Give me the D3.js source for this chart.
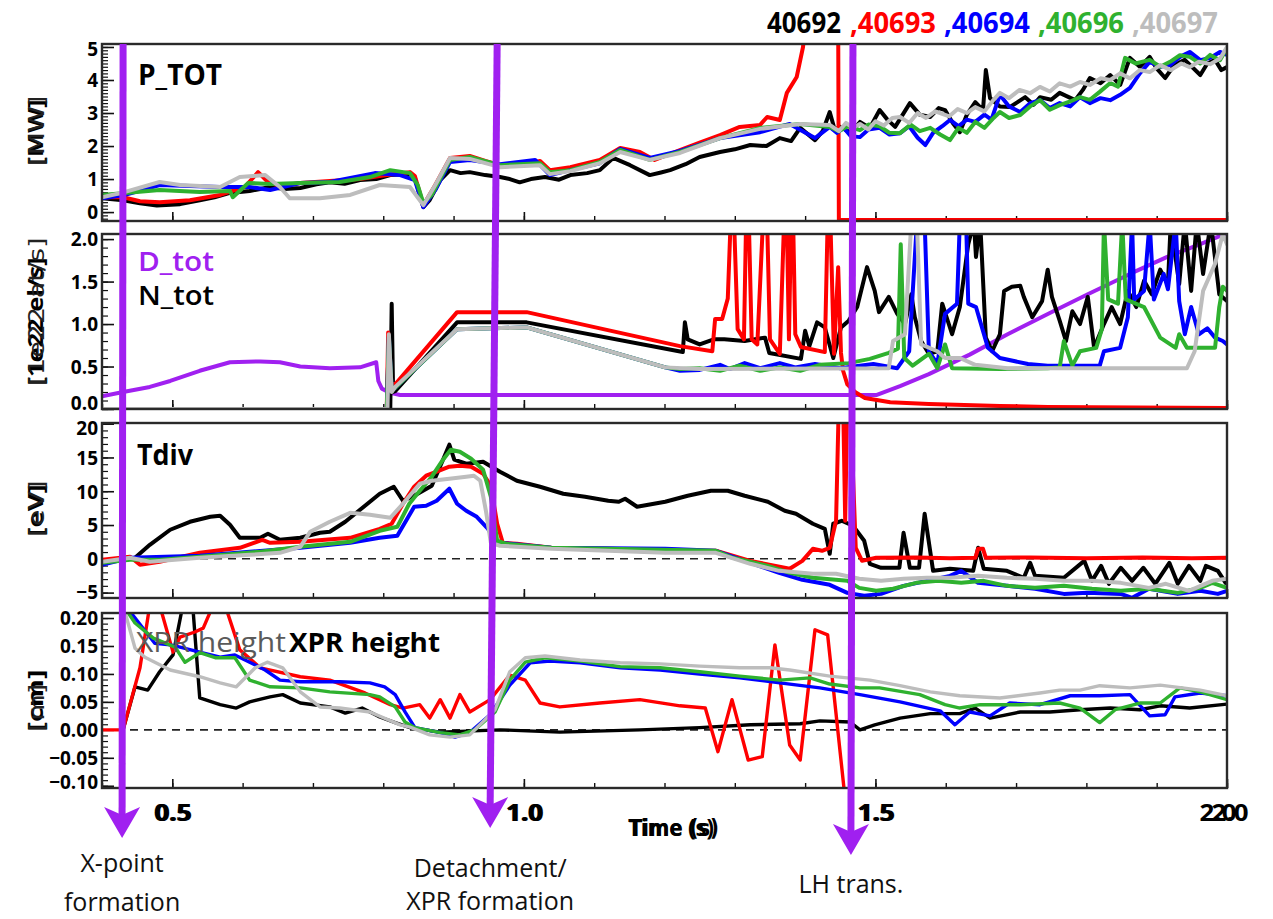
<!DOCTYPE html>
<html><head><meta charset="utf-8">
<script src="https://cdn.jsdelivr.net/npm/d3@7"></script>
<style>body{margin:0;background:#fff}svg{display:block}</style>
</head><body>
<svg id="fig" width="1273" height="919"></svg>
<script>
// ---------------- data ----------------
const shots = ["40692", ",40693", ",40694", ",40696", ",40697"];
const shotColors = ["#000000", "#ff0000", "#0000ff", "#2fb12f", "#bdbdbd"];
const timeTicks = [0.5, 1.0, 1.5, 2.0];
const timeTickLabels = ["0.5", "1.0", "1.5", "2.0"];

const pTotTicks = [0, 1, 2, 3, 4, 5];
const nTotTicks = [0.0, 0.5, 1.0, 1.5, 2.0];
const tDivTicks = [-5, 0, 5, 10, 15, 20];
const xprTicks = [-0.10, -0.05, 0.00, 0.05, 0.10, 0.15, 0.20];

const eventTimes = [0.430, 0.962, 1.468];
const eventLabels = [["X-point", "formation"], ["Detachment/", "XPR formation"], ["LH trans."]];

// P_TOT [MW] per shot: [time s, value]
const pTot40692 = [[0.400,0.42],[0.430,0.36],[0.454,0.27],[0.478,0.20],[0.511,0.24],[0.539,0.36],[0.560,0.45],[0.582,0.58],[0.610,0.64],[0.625,0.70],[0.639,0.76],[0.660,0.70],[0.682,0.73],[0.705,0.84],[0.724,0.90],[0.745,0.86],[0.767,0.97],[0.790,1.00],[0.810,1.12],[0.838,1.15],[0.845,1.03],[0.857,0.15],[0.866,0.36],[0.881,0.97],[0.895,1.27],[0.910,1.18],[0.923,1.21],[0.945,1.12],[0.966,1.06],[0.980,1.00],[0.994,0.90],[1.010,1.00],[1.030,1.06],[1.050,0.98],[1.066,1.12],[1.090,1.18],[1.108,1.27],[1.127,1.64],[1.151,1.42],[1.179,1.12],[1.195,1.20],[1.208,1.27],[1.230,1.45],[1.250,1.67],[1.279,1.82],[1.300,1.90],[1.322,2.03],[1.345,2.00],[1.364,2.24],[1.380,2.15],[1.393,2.55],[1.414,2.18],[1.425,2.45],[1.435,3.03],[1.442,2.50],[1.450,2.58],[1.465,2.40],[1.478,2.73],[1.492,2.55],[1.506,3.09],[1.517,2.80],[1.528,2.58],[1.549,3.30],[1.563,2.95],[1.578,2.88],[1.590,3.15],[1.599,3.09],[1.610,2.70],[1.620,2.42],[1.630,2.95],[1.642,3.33],[1.653,3.09],[1.657,4.30],[1.663,3.45],[1.677,3.20],[1.691,3.18],[1.713,3.48],[1.725,3.25],[1.734,3.48],[1.750,3.40],[1.762,3.61],[1.784,3.39],[1.795,3.70],[1.805,4.06],[1.820,3.90],[1.834,4.15],[1.848,3.85],[1.862,4.67],[1.876,4.40],[1.890,4.70],[1.900,4.35],[1.912,4.06],[1.925,4.45],[1.940,4.61],[1.962,4.15],[1.972,4.50],[1.983,4.61],[1.992,4.30],[2.000,4.39]];
const pTot40693 = [[0.400,0.45],[0.430,0.45],[0.454,0.33],[0.482,0.30],[0.525,0.36],[0.568,0.52],[0.603,0.76],[0.622,1.21],[0.636,0.91],[0.653,0.79],[0.682,0.88],[0.724,0.94],[0.767,1.00],[0.795,1.09],[0.838,1.21],[0.845,1.09],[0.857,0.21],[0.874,0.82],[0.895,1.64],[0.923,1.70],[0.945,1.55],[0.966,1.42],[0.994,1.42],[1.023,1.55],[1.037,1.27],[1.066,1.36],[1.108,1.58],[1.137,1.94],[1.165,1.82],[1.186,1.58],[1.222,1.88],[1.250,2.10],[1.279,2.33],[1.307,2.58],[1.336,2.64],[1.346,2.88],[1.364,2.79],[1.374,3.61],[1.388,4.09],[1.397,5.00],[1.401,5.80],[1.447,5.80],[1.448,-0.24],[2.000,-0.24]];
const pTot40694 = [[0.400,0.42],[0.433,0.52],[0.482,0.82],[0.525,0.79],[0.568,0.76],[0.610,0.76],[0.639,0.67],[0.682,0.88],[0.724,0.91],[0.788,1.18],[0.824,1.12],[0.845,0.97],[0.857,0.15],[0.874,0.67],[0.895,1.52],[0.923,1.58],[0.966,1.45],[1.016,1.58],[1.037,1.12],[1.066,1.27],[1.108,1.48],[1.137,1.91],[1.179,1.64],[1.222,1.85],[1.279,2.24],[1.336,2.42],[1.378,2.67],[1.414,2.24],[1.435,2.58],[1.445,2.40],[1.455,2.55],[1.465,2.30],[1.478,2.27],[1.490,2.50],[1.506,2.55],[1.520,2.35],[1.535,2.39],[1.548,2.60],[1.560,2.25],[1.571,2.03],[1.582,2.40],[1.595,2.60],[1.606,2.79],[1.618,2.60],[1.630,2.80],[1.642,2.73],[1.655,2.95],[1.665,2.80],[1.677,3.55],[1.690,3.20],[1.706,3.03],[1.720,3.30],[1.734,3.39],[1.748,3.15],[1.762,3.30],[1.777,3.20],[1.791,3.48],[1.805,3.30],[1.820,3.45],[1.834,3.39],[1.848,3.55],[1.862,3.76],[1.876,4.20],[1.890,4.55],[1.905,4.40],[1.919,4.45],[1.933,4.70],[1.947,4.85],[1.962,4.60],[1.976,4.67],[1.990,4.85],[2.000,4.76]];
const pTot40696 = [[0.400,0.52],[0.433,0.58],[0.482,0.67],[0.539,0.61],[0.582,0.64],[0.586,0.45],[0.608,0.88],[0.639,0.85],[0.682,0.88],[0.738,0.91],[0.781,1.06],[0.810,1.27],[0.838,1.18],[0.849,0.82],[0.857,0.27],[0.869,0.52],[0.895,1.58],[0.923,1.67],[0.966,1.42],[1.023,1.48],[1.037,1.21],[1.066,1.27],[1.108,1.52],[1.137,1.88],[1.179,1.58],[1.222,1.82],[1.279,2.24],[1.336,2.55],[1.393,2.67],[1.435,2.58],[1.448,2.45],[1.460,2.60],[1.478,2.48],[1.490,2.65],[1.506,2.60],[1.520,2.40],[1.535,2.39],[1.550,2.65],[1.563,2.45],[1.578,2.55],[1.592,2.35],[1.606,2.18],[1.618,2.55],[1.630,2.40],[1.642,2.73],[1.655,2.55],[1.668,2.85],[1.677,3.03],[1.690,2.85],[1.706,2.94],[1.720,3.20],[1.734,3.39],[1.748,3.10],[1.762,3.24],[1.777,3.35],[1.791,3.48],[1.805,3.40],[1.819,3.64],[1.834,3.91],[1.845,3.80],[1.855,4.67],[1.870,4.50],[1.890,4.61],[1.905,4.40],[1.919,4.55],[1.933,4.75],[1.947,4.70],[1.962,4.50],[1.976,4.76],[1.990,4.60],[2.000,4.97]];
const pTot40697 = [[0.400,0.45],[0.433,0.61],[0.482,0.91],[0.511,0.82],[0.568,0.76],[0.596,1.06],[0.632,1.12],[0.653,0.76],[0.667,0.42],[0.710,0.42],[0.753,0.52],[0.795,0.82],[0.838,0.76],[0.857,0.21],[0.874,0.82],[0.895,1.64],[0.923,1.61],[0.966,1.36],[1.023,1.42],[1.037,1.15],[1.066,1.24],[1.108,1.48],[1.137,1.82],[1.179,1.58],[1.222,1.79],[1.279,2.24],[1.336,2.52],[1.393,2.67],[1.435,2.64],[1.448,2.45],[1.458,2.70],[1.468,2.55],[1.478,2.67],[1.490,2.50],[1.500,2.75],[1.512,2.62],[1.524,2.85],[1.535,2.88],[1.548,2.70],[1.560,3.00],[1.572,2.85],[1.585,3.05],[1.592,3.00],[1.605,2.90],[1.617,3.12],[1.630,3.00],[1.642,3.18],[1.655,3.05],[1.668,3.40],[1.677,3.61],[1.690,3.45],[1.705,3.70],[1.720,3.60],[1.734,3.79],[1.748,3.65],[1.762,3.90],[1.777,3.80],[1.791,3.94],[1.805,3.85],[1.820,4.05],[1.834,4.00],[1.848,4.20],[1.862,4.05],[1.876,4.30],[1.890,4.24],[1.905,4.45],[1.920,4.30],[1.935,4.50],[1.947,4.39],[1.960,4.55],[1.976,4.48],[1.990,4.65],[2.000,5.00]];

// D_tot and N_tot [1e22 el/s]
const dTot40693 = [[0.400,0.15],[0.430,0.20],[0.468,0.26],[0.497,0.33],[0.539,0.45],[0.582,0.55],[0.625,0.56],[0.653,0.55],[0.682,0.50],[0.724,0.48],[0.767,0.49],[0.790,0.55],[0.793,0.33],[0.798,0.24],[0.810,0.19],[0.824,0.165],[1.502,0.165],[1.535,0.27],[1.576,0.41],[1.634,0.64],[1.688,0.88],[1.748,1.13],[1.802,1.35],[1.862,1.59],[1.915,1.79],[1.962,1.94],[2.000,2.07]];
const nTot40692 = [[0.400,0],[0.810,0],[0.812,1.24],[0.814,0.20],[0.817,0.21],[0.905,1.02],[1.004,1.02],[1.226,0.67],[1.229,1.02],[1.233,0.82],[1.250,0.76],[1.270,0.82],[1.285,0.82],[1.314,0.80],[1.343,0.84],[1.349,0.66],[1.394,0.59],[1.400,0.92],[1.406,0.74],[1.417,1.02],[1.428,0.96],[1.440,0.60],[1.451,0.96],[1.462,1.04],[1.474,1.20],[1.488,1.67],[1.499,1.39],[1.505,1.14],[1.519,1.32],[1.531,1.12],[1.542,1.00],[1.551,1.35],[1.556,1.08],[1.565,0.80],[1.576,0.65],[1.588,0.68],[1.595,1.24],[1.609,0.88],[1.620,1.20],[1.632,1.94],[1.640,2.20],[1.643,1.79],[1.649,2.20],[1.657,0.84],[1.666,0.68],[1.677,0.88],[1.683,1.39],[1.694,1.44],[1.706,1.45],[1.711,1.32],[1.723,1.08],[1.737,1.27],[1.745,1.64],[1.751,1.32],[1.762,1.04],[1.771,0.80],[1.780,1.15],[1.791,1.00],[1.802,1.32],[1.811,0.72],[1.825,1.00],[1.836,1.20],[1.848,1.00],[1.859,1.39],[1.871,1.20],[1.882,1.51],[1.893,1.35],[1.905,1.64],[1.916,1.47],[1.920,2.20],[1.932,1.47],[1.940,2.20],[1.949,1.39],[1.957,2.20],[1.966,1.59],[1.977,2.20],[1.989,1.35],[2.000,1.27]];
const nTot40693 = [[0.400,0],[0.805,0],[0.807,0.90],[0.810,0.30],[0.817,0.29],[0.905,1.14],[1.004,1.14],[1.222,0.74],[1.268,0.68],[1.272,1.06],[1.282,1.06],[1.290,1.30],[1.294,2.20],[1.299,2.20],[1.304,0.94],[1.313,0.82],[1.316,2.20],[1.320,2.20],[1.324,0.82],[1.332,0.76],[1.340,2.20],[1.346,2.20],[1.350,0.82],[1.364,0.65],[1.370,2.20],[1.374,2.20],[1.377,0.82],[1.380,2.20],[1.383,2.20],[1.386,0.88],[1.394,0.73],[1.428,0.67],[1.432,2.20],[1.436,2.20],[1.441,0.65],[1.447,1.67],[1.451,0.66],[1.454,0.45],[1.460,0.29],[1.471,0.20],[1.485,0.13],[1.521,0.08],[1.576,0.06],[1.677,0.035],[1.745,0.025],[2.000,0.012]];
const nTot40694 = [[0.400,0],[0.805,0],[0.808,0.85],[0.812,0.22],[0.817,0.25],[0.905,0.94],[1.004,0.96],[1.201,0.49],[1.222,0.45],[1.250,0.46],[1.279,0.52],[1.293,0.47],[1.314,0.54],[1.336,0.48],[1.364,0.54],[1.386,0.49],[1.414,0.53],[1.450,0.48],[1.497,0.53],[1.531,0.48],[1.548,0.68],[1.559,2.20],[1.570,2.20],[1.576,0.68],[1.588,0.53],[1.599,1.12],[1.616,1.24],[1.620,2.20],[1.629,2.20],[1.632,1.24],[1.643,1.20],[1.660,0.72],[1.677,0.60],[1.717,0.53],[1.745,0.51],[1.819,0.51],[1.825,0.68],[1.848,0.72],[1.859,1.08],[1.865,2.20],[1.868,1.29],[1.882,1.39],[1.890,2.20],[1.896,1.29],[1.910,1.59],[1.916,1.41],[1.927,2.20],[1.932,1.27],[1.940,0.88],[1.949,1.20],[1.960,0.88],[1.972,0.95],[1.983,0.84],[1.994,0.80],[2.000,0.76]];
const nTot40696 = [[0.400,0],[0.805,0],[0.808,0.85],[0.812,0.22],[0.817,0.25],[0.905,0.94],[1.004,0.96],[1.201,0.49],[1.222,0.47],[1.250,0.48],[1.279,0.45],[1.307,0.51],[1.336,0.45],[1.364,0.49],[1.393,0.45],[1.421,0.52],[1.462,0.54],[1.492,0.59],[1.519,0.66],[1.532,0.71],[1.536,1.94],[1.541,0.60],[1.553,0.51],[1.576,0.65],[1.588,0.48],[1.599,0.76],[1.609,0.48],[1.677,0.47],[1.745,0.48],[1.762,0.49],[1.768,0.80],[1.780,0.51],[1.791,0.68],[1.814,0.72],[1.822,0.94],[1.825,2.20],[1.831,1.29],[1.845,1.24],[1.851,2.20],[1.856,1.29],[1.882,1.20],[1.905,0.84],[1.927,0.72],[1.932,0.88],[1.943,0.72],[1.983,0.72],[1.989,1.20],[1.994,1.44],[2.000,1.39]];
const nTot40697 = [[0.400,0],[0.806,0],[0.808,0.88],[0.812,0.20],[0.817,0.26],[0.905,0.94],[1.004,0.96],[1.201,0.49],[1.250,0.47],[1.519,0.48],[1.525,0.80],[1.542,0.88],[1.551,2.20],[1.559,2.20],[1.565,0.76],[1.588,0.68],[1.599,0.60],[1.620,0.60],[1.642,0.52],[1.688,0.48],[1.943,0.48],[1.954,0.68],[1.966,1.39],[1.983,1.71],[1.994,2.06],[2.000,1.94]];

// Tdiv [eV]
const tDiv40692 = [[0.400,-0.44],[0.433,-0.15],[0.447,0.15],[0.468,2.07],[0.497,4.30],[0.525,5.48],[0.554,6.22],[0.568,6.37],[0.582,5.04],[0.596,3.11],[0.625,3.11],[0.636,3.70],[0.653,2.81],[0.682,3.11],[0.710,3.85],[0.724,4.00],[0.746,5.48],[0.767,7.26],[0.795,9.63],[0.815,10.67],[0.828,8.59],[0.844,9.33],[0.869,10.81],[0.885,14.67],[0.894,16.89],[0.901,14.67],[0.918,14.07],[0.942,14.37],[0.966,12.89],[0.990,11.56],[1.023,10.67],[1.056,9.63],[1.087,9.19],[1.120,8.59],[1.135,8.44],[1.144,8.89],[1.161,7.70],[1.201,8.44],[1.233,9.33],[1.266,10.07],[1.290,10.07],[1.314,9.33],[1.347,8.44],[1.371,7.11],[1.387,6.67],[1.411,5.19],[1.428,4.44],[1.435,0.74],[1.440,5.19],[1.452,5.63],[1.468,4.89],[1.484,2.67],[1.492,-0.74],[1.508,-1.33],[1.534,-1.33],[1.540,3.85],[1.549,-1.33],[1.562,-1.33],[1.570,6.67],[1.582,-1.78],[1.606,-1.48],[1.639,-1.78],[1.646,1.63],[1.654,-1.48],[1.687,-1.78],[1.711,-2.81],[1.720,-0.59],[1.727,-2.52],[1.768,-2.81],[1.797,-0.30],[1.808,-3.26],[1.821,-1.04],[1.832,-3.70],[1.849,-1.33],[1.865,-3.26],[1.881,-1.33],[1.898,-3.70],[1.918,-0.59],[1.930,-3.70],[1.946,-1.04],[1.962,-3.26],[1.970,-1.04],[1.987,-1.78],[1.998,-3.56]];
const tDiv40693 = [[0.400,-0.15],[0.440,0.30],[0.454,-0.89],[0.482,-0.44],[0.539,0.89],[0.596,1.63],[0.628,2.81],[0.639,2.37],[0.682,2.52],[0.753,3.11],[0.795,4.44],[0.812,5.19],[0.828,8.15],[0.844,10.67],[0.861,12.30],[0.876,12.89],[0.894,13.63],[0.909,13.78],[0.925,13.63],[0.942,12.59],[0.953,10.81],[0.962,5.19],[0.970,2.37],[0.990,2.22],[1.039,1.63],[1.120,1.48],[1.201,1.19],[1.273,1.19],[1.322,-0.30],[1.378,-1.48],[1.396,-0.30],[1.411,1.48],[1.424,1.19],[1.435,1.63],[1.444,5.63],[1.448,23.5],[1.454,23.5],[1.457,5.63],[1.460,23.5],[1.464,23.5],[1.472,1.63],[1.481,-0.30],[1.501,0.15],[1.560,0.20],[1.606,0.10],[1.642,0.15],[1.646,1.48],[1.653,1.48],[1.657,0.15],[1.720,0.20],[1.800,0.10],[1.880,0.20],[1.950,0.10],[2.000,0.15]];
const tDiv40694 = [[0.400,-0.89],[0.440,0.15],[0.539,0.44],[0.682,1.63],[0.753,2.37],[0.795,3.11],[0.820,3.41],[0.844,7.70],[0.861,7.85],[0.876,8.59],[0.894,10.37],[0.905,8.15],[0.918,7.11],[0.933,6.22],[0.949,4.44],[0.958,2.96],[0.966,2.37],[1.039,1.63],[1.201,1.48],[1.273,1.19],[1.314,-0.30],[1.363,-2.07],[1.396,-3.11],[1.435,-3.85],[1.460,-5.04],[1.484,-5.48],[1.508,-5.19],[1.540,-4.00],[1.573,-3.26],[1.606,-2.52],[1.622,-1.78],[1.646,-3.56],[1.687,-4.00],[1.727,-4.44],[1.768,-5.19],[1.801,-5.04],[1.849,-5.19],[1.865,-5.78],[1.889,-4.44],[1.930,-5.19],[1.962,-4.74],[1.987,-5.19],[2.000,-4.74]];
const tDiv40696 = [[0.400,-0.59],[0.440,-0.15],[0.482,-0.15],[0.539,0.30],[0.625,1.04],[0.682,1.78],[0.753,2.52],[0.795,4.15],[0.820,4.74],[0.837,8.15],[0.852,10.07],[0.869,12.15],[0.885,14.67],[0.896,16.15],[0.909,15.85],[0.925,14.81],[0.942,13.19],[0.953,9.19],[0.962,2.67],[0.975,2.22],[1.039,1.63],[1.120,1.48],[1.273,1.19],[1.297,0.15],[1.347,-1.04],[1.378,-2.07],[1.411,-2.81],[1.460,-3.26],[1.477,-4.30],[1.501,-4.74],[1.525,-4.44],[1.558,-3.56],[1.589,-3.26],[1.622,-3.56],[1.654,-3.26],[1.687,-4.00],[1.727,-4.30],[1.768,-4.00],[1.808,-4.44],[1.849,-4.74],[1.889,-4.44],[1.930,-5.04],[1.962,-4.30],[1.979,-3.56],[2.000,-4.30]];
const tDiv40697 = [[0.400,-0.44],[0.440,0.15],[0.468,-0.44],[0.539,0.15],[0.610,0.59],[0.653,0.89],[0.682,1.78],[0.696,4.00],[0.724,5.48],[0.753,6.81],[0.781,6.52],[0.810,6.07],[0.828,8.15],[0.852,11.11],[0.869,11.56],[0.894,11.85],[0.918,12.15],[0.929,12.30],[0.938,11.56],[0.946,7.11],[0.953,2.37],[0.966,1.93],[1.039,1.48],[1.201,0.89],[1.273,0.89],[1.322,-0.74],[1.363,-1.78],[1.411,-2.22],[1.444,-2.22],[1.477,-2.96],[1.508,-3.26],[1.540,-2.96],[1.573,-2.81],[1.606,-2.81],[1.646,-2.52],[1.687,-2.81],[1.727,-2.96],[1.768,-3.26],[1.808,-3.26],[1.849,-3.56],[1.889,-4.30],[1.913,-3.70],[1.946,-4.74],[1.979,-3.26],[2.000,-2.96]];

// XPR height [m]
const xpr40692 = [[0.430,0],[0.447,0.077],[0.465,0.071],[0.482,0.104],[0.501,0.134],[0.515,0.223],[0.529,0.223],[0.539,0.057],[0.568,0.045],[0.591,0.039],[0.610,0.050],[0.639,0.059],[0.657,0.063],[0.682,0.048],[0.724,0.041],[0.746,0.030],[0.770,0.039],[0.795,0.023],[0.817,0.013],[0.838,0.004],[0.881,-0.004],[0.966,0.000],[1.051,-0.004],[1.165,0.000],[1.250,0.004],[1.322,0.009],[1.393,0.011],[1.421,0.016],[1.464,0.014],[1.478,0.000],[1.499,0.009],[1.535,0.021],[1.578,0.029],[1.620,0.029],[1.642,0.039],[1.663,0.021],[1.706,0.032],[1.748,0.032],[1.791,0.036],[1.834,0.039],[1.876,0.036],[1.905,0.043],[1.947,0.039],[2.000,0.046]];
const xpr40693 = [[0.400,0],[0.430,0],[0.454,0.111],[0.468,0.223],[0.482,0.223],[0.501,0.139],[0.511,0.166],[0.532,0.175],[0.544,0.182],[0.558,0.223],[0.575,0.223],[0.596,0.143],[0.625,0.111],[0.682,0.095],[0.724,0.089],[0.774,0.066],[0.810,0.045],[0.828,0.039],[0.852,0.045],[0.866,0.021],[0.881,0.054],[0.895,0.021],[0.909,0.063],[0.923,0.032],[0.952,0.054],[0.980,0.098],[1.002,0.089],[1.023,0.048],[1.051,0.041],[1.108,0.048],[1.165,0.054],[1.222,0.043],[1.258,0.039],[1.276,-0.039],[1.296,0.054],[1.319,-0.054],[1.339,-0.048],[1.357,0.152],[1.378,-0.027],[1.393,-0.054],[1.414,0.179],[1.432,0.170],[1.457,-0.125]];
const xpr40694 = [[0.430,0.223],[0.444,0.205],[0.475,0.155],[0.497,0.152],[0.511,0.148],[0.539,0.139],[0.568,0.130],[0.589,0.134],[0.610,0.121],[0.632,0.107],[0.653,0.089],[0.682,0.086],[0.738,0.086],[0.781,0.084],[0.802,0.077],[0.817,0.063],[0.831,0.032],[0.845,0.004],[0.881,-0.005],[0.902,-0.013],[0.923,-0.005],[0.952,0.027],[0.980,0.080],[1.009,0.120],[1.037,0.123],[1.080,0.120],[1.137,0.111],[1.194,0.107],[1.250,0.100],[1.307,0.093],[1.364,0.084],[1.421,0.075],[1.478,0.063],[1.535,0.050],[1.592,0.034],[1.613,0.009],[1.634,0.032],[1.663,0.025],[1.691,0.048],[1.734,0.045],[1.777,0.061],[1.819,0.061],[1.862,0.063],[1.890,0.025],[1.912,0.027],[1.926,0.059],[1.962,0.066],[2.000,0.061]];
const xpr40696 = [[0.430,0.223],[0.447,0.191],[0.473,0.164],[0.504,0.148],[0.518,0.121],[0.539,0.138],[0.561,0.129],[0.589,0.129],[0.610,0.089],[0.639,0.077],[0.682,0.075],[0.724,0.068],[0.781,0.063],[0.795,0.059],[0.817,0.041],[0.831,0.014],[0.845,0.004],[0.881,-0.005],[0.909,-0.009],[0.930,0.000],[0.959,0.032],[0.980,0.089],[1.002,0.121],[1.030,0.129],[1.080,0.123],[1.137,0.113],[1.194,0.111],[1.250,0.104],[1.307,0.096],[1.364,0.089],[1.407,0.093],[1.435,0.082],[1.478,0.075],[1.506,0.075],[1.563,0.063],[1.599,0.045],[1.620,0.039],[1.649,0.045],[1.706,0.045],[1.762,0.048],[1.791,0.039],[1.819,0.013],[1.841,0.036],[1.876,0.048],[1.905,0.048],[1.933,0.075],[1.962,0.068],[2.000,0.054]];
const xpr40697 = [[0.430,0.223],[0.447,0.146],[0.461,0.130],[0.497,0.107],[0.539,0.095],[0.568,0.084],[0.591,0.077],[0.618,0.111],[0.635,0.121],[0.657,0.111],[0.682,0.068],[0.710,0.041],[0.738,0.039],[0.781,0.032],[0.824,0.009],[0.838,0.005],[0.866,-0.009],[0.895,-0.013],[0.923,-0.009],[0.959,0.036],[0.980,0.104],[1.002,0.129],[1.030,0.132],[1.080,0.125],[1.137,0.120],[1.194,0.118],[1.250,0.114],[1.307,0.111],[1.350,0.111],[1.378,0.107],[1.435,0.096],[1.492,0.089],[1.535,0.079],[1.578,0.068],[1.620,0.061],[1.677,0.057],[1.734,0.066],[1.762,0.071],[1.791,0.071],[1.819,0.079],[1.862,0.075],[1.905,0.080],[1.962,0.071],[2.000,0.061]];

// ---------------- layout ----------------
const svg = d3.select("#fig");
const plotLeft = 102, plotRight = 1227;
const x = d3.scaleLinear().domain([0.4, 2.0]).range([plotLeft, plotRight]);
const boldFont = "'Open Sans', 'DejaVu Sans', sans-serif";
const PURPLE = "#a020f0";

const panels = [
  { top: 44, bottom: 221, domain: [-0.27, 5.09], ticks: pTotTicks, fmt: d3.format("d"), minor: 0.1,
    series: [pTot40692, pTot40693, pTot40694, pTot40696, pTot40697],
    units: ["[MW]", "[MW]"], unitLen: [66, 70], zero: false },
  { top: 234, bottom: 409, domain: [0, 2.06], ticks: nTotTicks, fmt: d3.format(".1f"), minor: 0.1,
    series: [nTot40692, nTot40693, nTot40694, nTot40696, nTot40697],
    units: ["[1e22 el/s]", "[1e22 at/s]"], unitLen: [128, 148], zero: false },
  { top: 423, bottom: 598, domain: [-5.8, 20.1], ticks: tDivTicks, fmt: d3.format("d"), minor: 1,
    series: [tDiv40692, tDiv40693, tDiv40694, tDiv40696, tDiv40697],
    units: ["[eV]", "[eV]"], unitLen: [52, 56], zero: true },
  { top: 613, bottom: 788, domain: [-0.104, 0.209], ticks: xprTicks, fmt: d3.format(".2f"), minor: 0.01,
    series: [xpr40692, xpr40693, xpr40694, xpr40696, xpr40697],
    units: ["[cm]", "[m]"], unitLen: [62, 48], zero: true }
];

panels.forEach((p, i) => {
  const y = d3.scaleLinear().domain(p.domain).range([p.bottom, p.top]);
  const g = svg.append("g");

  const clipId = "clip" + i;
  svg.append("clipPath").attr("id", clipId).append("rect")
    .attr("x", plotLeft).attr("y", p.top).attr("width", plotRight - plotLeft).attr("height", p.bottom - p.top);

  // minor / major y ticks (inside the frame)
  const minorVals = d3.range(Math.ceil(p.domain[0] / p.minor) * p.minor, p.domain[1] + 1e-9, p.minor);
  g.append("g").attr("transform", `translate(${plotLeft},0)`)
    .call(d3.axisLeft(y).tickValues(minorVals).tickSizeInner(-6).tickSizeOuter(0).tickFormat(""))
    .call(a => { a.select(".domain").remove(); a.selectAll("line").attr("stroke", "#111").attr("stroke-width", 1.2); });
  g.append("g").attr("transform", `translate(${plotLeft},0)`)
    .call(d3.axisLeft(y).tickValues(p.ticks).tickSizeInner(-12).tickSizeOuter(0).tickPadding(4).tickFormat(p.fmt))
    .call(a => {
      a.select(".domain").remove();
      a.selectAll("line").attr("stroke", "#111").attr("stroke-width", 1.6);
      // keep the end labels inside the frame's height
      a.selectAll("text").attr("font-family", boldFont).attr("font-weight", 700)
        .attr("font-size", 19).attr("fill", "#000").attr("dy", "0.36em")
        .attr("y", d => {
          const yy = y(d);
          return Math.min(Math.max(yy, p.top + 5), p.bottom - 6) - yy;
        });
    });

  // x ticks along the bottom edge, pointing up
  g.append("g").attr("transform", `translate(0,${p.bottom})`)
    .call(d3.axisBottom(x).tickValues(d3.range(0.4, 2.0001, 0.1)).tickSizeInner(-5).tickSizeOuter(0).tickFormat(""))
    .call(a => { a.select(".domain").remove(); a.selectAll("line").attr("stroke", "#111").attr("stroke-width", 1.4); });
  g.append("g").attr("transform", `translate(0,${p.bottom})`)
    .call(d3.axisBottom(x).tickValues(timeTicks).tickSizeInner(-9).tickSizeOuter(0).tickFormat(""))
    .call(a => { a.select(".domain").remove(); a.selectAll("line").attr("stroke", "#111").attr("stroke-width", 1.6); });

  const plot = g.append("g").attr("clip-path", `url(#${clipId})`);
  if (p.zero) {
    plot.append("line").attr("x1", plotLeft).attr("x2", plotRight)
      .attr("y1", y(0)).attr("y2", y(0))
      .attr("stroke", "#222").attr("stroke-width", 1.6).attr("stroke-dasharray", "8,6");
  }
  const line = d3.line().x(d => x(d[0])).y(d => y(d[1]));
  if (i === 1) {
    plot.append("path").datum(dTot40693).attr("d", line)
      .attr("fill", "none").attr("stroke", PURPLE).attr("stroke-width", 4).attr("stroke-linejoin", "round");
  }
  p.series.forEach((s, k) => {
    plot.append("path").datum(s).attr("d", line)
      .attr("fill", "none").attr("stroke", shotColors[k])
      .attr("stroke-width", i === 3 ? 3.4 : 4)
      .attr("stroke-linejoin", "round").attr("stroke-linecap", "round");
  });

  // frame
  g.append("rect").attr("x", plotLeft).attr("y", p.top)
    .attr("width", plotRight - plotLeft).attr("height", p.bottom - p.top)
    .attr("fill", "none").attr("stroke", "#2a2a2a").attr("stroke-width", 2.4);

  // unit label, printed twice on top of itself
  const cy = (p.top + p.bottom) / 2;
  p.units.forEach((u, k) => {
    svg.append("text")
      .attr("transform", `translate(${k === 0 ? 43 : 44},${cy + p.unitLen[0] / 2}) rotate(-90)`)
      .attr("text-anchor", "start")
      .attr("font-family", k === 0 ? boldFont : "'DejaVu Sans', sans-serif")
      .attr("font-weight", k === 0 ? 700 : 400)
      .attr("font-size", 22).attr("fill", k === 0 ? "#000" : "#222")
      .attr("textLength", p.unitLen[k]).attr("lengthAdjust", "spacingAndGlyphs")
      .text(u);
  });
});

// panel titles
function title(txt, x0, y0, len, color, weight, size, family) {
  svg.append("text").attr("x", x0).attr("y", y0)
    .attr("font-family", family || boldFont).attr("font-weight", weight)
    .attr("font-size", size).attr("fill", color)
    .attr("textLength", len).attr("lengthAdjust", "spacingAndGlyphs").text(txt);
}
title("P_TOT", 138, 85, 84, "#000", 700, 29);
title("D_tot", 138, 271, 76, PURPLE, 600, 27);
title("N_tot", 138, 305, 76, "#000", 600, 27);
title("Tdiv", 137, 465, 56, "#000", 700, 29);
title("XPR height", 136, 652, 150, "#5a5a5a", 400, 27, "'Open Sans', sans-serif");
title("XPR height", 289, 652, 151, "#000", 700, 27);

// shot legend
const legendX = [767, 850, 944, 1038, 1132];
const legendLen = [74, 86, 86, 86, 86];
shots.forEach((s, k) => {
  svg.append("text").attr("x", legendX[k]).attr("y", 33)
    .attr("font-family", boldFont).attr("font-weight", 700).attr("font-size", 28)
    .attr("fill", shotColors[k])
    .attr("textLength", legendLen[k]).attr("lengthAdjust", "spacingAndGlyphs").text(s);
});

// time axis labels under the bottom panel
const last = panels[3];
timeTickLabels.forEach((lab, k) => {
  const tx = x(timeTicks[k]);
  const copies = k === 3 ? [-9, 3] : [0, 1.5];
  copies.forEach(dx => {
    svg.append("text").attr("x", tx + dx).attr("y", last.bottom + 33)
      .attr("text-anchor", "middle").attr("font-family", boldFont).attr("font-weight", 700)
      .attr("font-size", 24).attr("fill", "#000").attr("textLength", 37).attr("lengthAdjust", "spacingAndGlyphs")
      .text(lab);
  });
});
[[0, 86], [1, 90]].forEach(([k, len]) => {
  svg.append("text").attr("x", 628 + k).attr("y", last.bottom + 48)
    .attr("font-family", k === 0 ? boldFont : "'DejaVu Sans', sans-serif").attr("font-weight", 700)
    .attr("font-size", 23).attr("fill", "#000")
    .attr("textLength", len).attr("lengthAdjust", "spacingAndGlyphs").text("Time (s)");
});

// event markers: vertical purple lines ending in arrows
const arrowTipY = [838, 828, 855];
const arrowBottomShift = [-1, -7, -2];
const labelY = [[872, 911], [877, 910], [893]];
eventTimes.forEach((t, k) => {
  const xTop = x(t), xTip = xTop + arrowBottomShift[k];
  const tipY = arrowTipY[k];
  const headLen = 31, headHalf = 18, notch = 8;
  svg.append("line").attr("x1", xTop).attr("y1", 44).attr("x2", xTip).attr("y2", tipY - headLen + notch)
    .attr("stroke", PURPLE).attr("stroke-width", 7);
  svg.append("path")
    .attr("d", `M${xTip},${tipY} L${xTip - headHalf},${tipY - headLen} L${xTip},${tipY - headLen + notch} L${xTip + headHalf},${tipY - headLen} Z`)
    .attr("fill", PURPLE);
  eventLabels[k].forEach((txt, j) => {
    svg.append("text").attr("x", xTip).attr("y", labelY[k][j])
      .attr("text-anchor", "middle").attr("font-family", "'Open Sans', sans-serif")
      .attr("font-size", 25).attr("fill", "#111").text(txt);
  });
});
</script>
</body></html>
